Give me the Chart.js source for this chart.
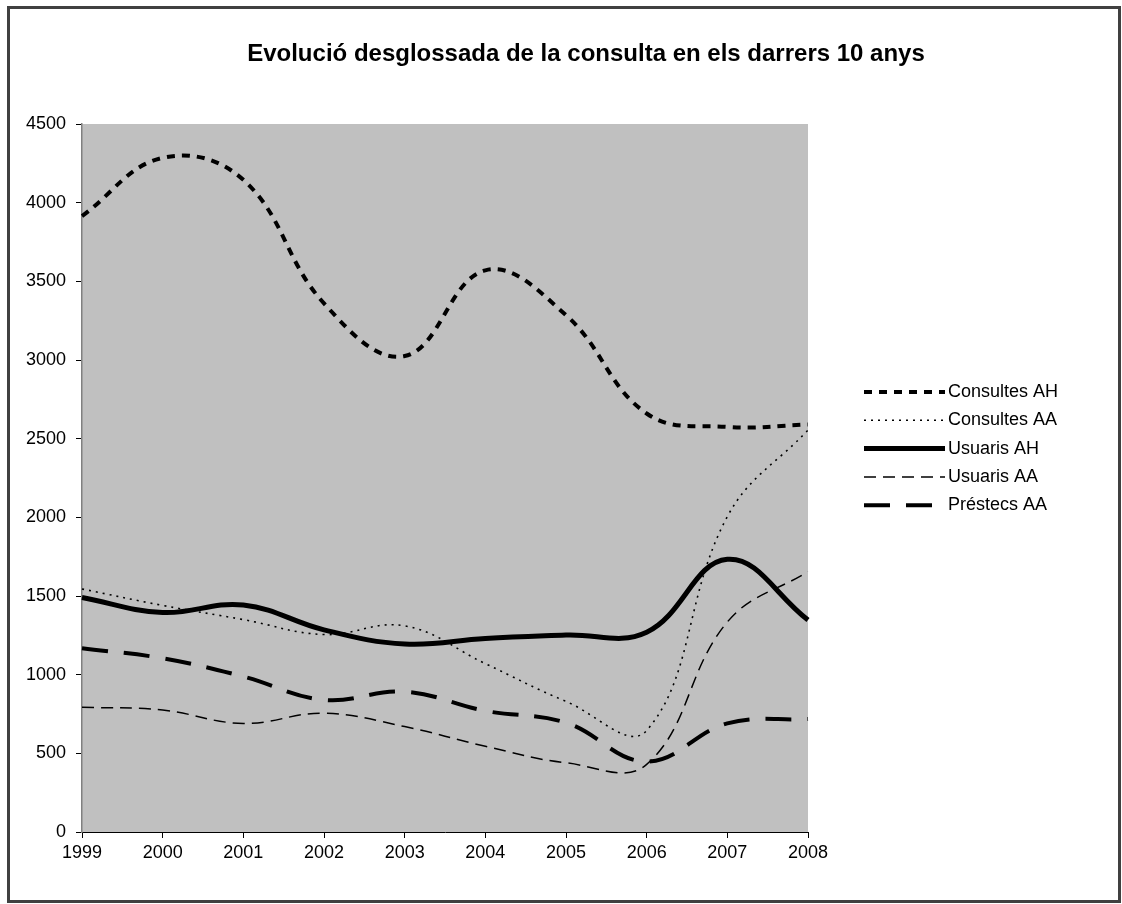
<!DOCTYPE html>
<html>
<head>
<meta charset="utf-8">
<script src="https://cdn.jsdelivr.net/npm/chart.js@4.4.0/dist/chart.umd.min.js"></script>
<style>
  body { margin: 0; background: #fff; }
  #wrap { position: relative; width: 1122px; height: 904px; }
</style>
</head>
<body>
<div id="wrap"><canvas id="chart" width="1122" height="904"></canvas></div>
<script>
const years = ['1999', '2000', '2001', '2002', '2003', '2004', '2005', '2006', '2007', '2008'];
const consultesAH = [3915, 4285, 4145, 3360, 3025, 3570, 3285, 2660, 2575, 2590];
const consultesAA = [1545, 1440, 1350, 1255, 1310, 1070, 830, 645, 2005, 2555];
const usuarisAH = [1490, 1395, 1443, 1285, 1195, 1230, 1252, 1270, 1733, 1348];
const usuarisAA = [793, 775, 690, 755, 670, 545, 440, 430, 1335, 1655];
const prestecsAA = [1168, 1104, 988, 840, 892, 770, 695, 448, 690, 718];
const yTicks = [0, 500, 1000, 1500, 2000, 2500, 3000, 3500, 4000, 4500];

const font = "'Liberation Sans', Arial, sans-serif";

const frame = {
    id: 'frame',
    beforeDraw(chart) {
        const ctx = chart.ctx;
        const a = chart.chartArea;
        ctx.save();
        ctx.fillStyle = '#fff';
        ctx.fillRect(0, 0, chart.width, chart.height);
        ctx.fillStyle = '#c0c0c0';
        ctx.fillRect(a.left, a.top, a.right - a.left, a.bottom - a.top);
        ctx.strokeStyle = '#404040';
        ctx.lineWidth = 3;
        ctx.strokeRect(8.5, 7.5, 1111, 894);
        ctx.restore();
    },
    afterDraw(chart) {
        const ctx = chart.ctx;
        ctx.save();
        ctx.fillStyle = '#000';
        ctx.font = 'bold 24px ' + font;
        ctx.textAlign = 'center';
        ctx.textBaseline = 'middle';
        ctx.fillText('Evolució desglossada de la consulta en els darrers 10 anys', 586, 54);

        // legend
        ctx.font = '18px ' + font;
        ctx.textAlign = 'left';
        chart.data.datasets.forEach((ds, i) => {
            const y = 392 + i * 28.3;
            ctx.strokeStyle = '#000';
            ctx.lineWidth = ds.borderWidth;
            ctx.setLineDash(ds.borderDash || []);
            ctx.lineCap = 'butt';
            ctx.beginPath();
            ctx.moveTo(864, y);
            ctx.lineTo(945, y);
            ctx.stroke();
            ctx.setLineDash([]);
            ctx.fillText(ds.label, 948, y);
        });
        ctx.restore();
    }
};

new Chart(document.getElementById('chart'), {
    type: 'line',
    data: {
        labels: years,
        datasets: [
            { label: 'Consultes AH', data: consultesAH, borderColor: '#000', borderWidth: 4, borderDash: [8, 7] },
            { label: 'Consultes AA', data: consultesAA, borderColor: '#000', borderWidth: 1.6, borderDash: [2, 5] },
            { label: 'Usuaris AH', data: usuarisAH, borderColor: '#000', borderWidth: 5, borderDash: [] },
            { label: 'Usuaris AA', data: usuarisAA, borderColor: '#000', borderWidth: 1.5, borderDash: [12, 7] },
            { label: 'Préstecs AA', data: prestecsAA, borderColor: '#000', borderWidth: 4, borderDash: [26, 16] }
        ]
    },
    options: {
        responsive: false,
        animation: false,
        layout: { padding: { left: 0, right: 314, top: 124, bottom: 0 } },
        elements: {
            line: { tension: 0.4, fill: false },
            point: { radius: 0, hoverRadius: 0 }
        },
        plugins: {
            legend: { display: false },
            title: { display: false },
            tooltip: { enabled: false }
        },
        scales: {
            x: {
                offset: false,
                afterFit(s) { s.height = 72; },
                grid: { drawOnChartArea: false, tickLength: 6, color: '#000' },
                border: { color: '#000', width: 1 },
                ticks: { color: '#000', font: { family: font, size: 18 }, padding: 4, maxRotation: 0, autoSkip: false }
            },
            y: {
                min: 0,
                max: 4500,
                afterFit(s) { s.width = 82; },
                afterBuildTicks(s) { s.ticks = yTicks.map(v => ({ value: v })); },
                grid: { drawOnChartArea: false, tickLength: 6, color: '#000' },
                border: { color: '#808080', width: 1.5 },
                ticks: { color: '#000', font: { family: font, size: 18 }, padding: 10, callback: v => String(v) }
            }
        }
    },
    plugins: [frame]
});
</script>
</body>
</html>
